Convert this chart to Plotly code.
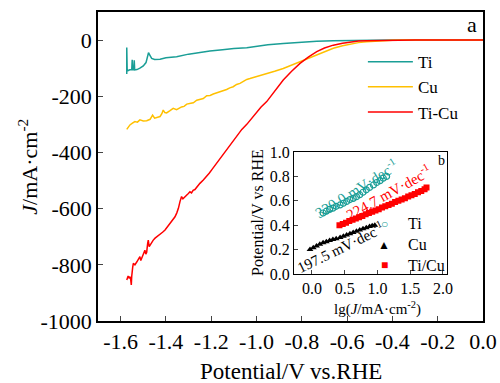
import plotly.graph_objects as go

FONT = "Liberation Serif"
TEAL = "#1a9e96"
YELLOW = "#FFC000"
RED = "#FF0000"

# ---- main panel (a) data ----
ti_x = [-1.573, -1.573, -1.571, -1.560, -1.551, -1.549, -1.547, -1.542, -1.540, -1.538, -1.528, -1.515,
        -1.500, -1.488, -1.480, -1.477, -1.470, -1.463, -1.450, -1.426, -1.400, -1.353, -1.300, -1.279,
        -1.250, -1.206, -1.150, -1.132, -1.100, -1.043, -1.000, -0.950, -0.882, -0.808, -0.734, -0.661,
        -0.587, -0.500, -0.400, -0.300, -0.200, -0.100, 0.0]
ti_y = [-121, -26, -110, -106, -106, -70, -106, -106, -72, -106, -105, -100,
        -92, -80, -60, -45, -55, -65, -69, -68, -63, -59, -50, -47,
        -43, -39, -34, -32, -30, -27, -22, -17, -12, -7, -4, -2,
        -1, 0, 0, 0, 0, 0, 0]

cu_x = [-1.573, -1.566, -1.559, -1.548, -1.537, -1.526, -1.515, -1.500, -1.485, -1.470, -1.462, -1.459,
        -1.450, -1.441, -1.426, -1.418, -1.412, -1.405, -1.397, -1.382, -1.368, -1.353, -1.340, -1.331,
        -1.320, -1.308, -1.290, -1.279, -1.264, -1.250, -1.235, -1.220, -1.205, -1.191, -1.175, -1.161,
        -1.145, -1.132, -1.118, -1.103, -1.088, -1.073, -1.058, -1.043, -1.029, -0.990, -0.955, -0.920,
        -0.882, -0.845, -0.808, -0.770, -0.734, -0.700, -0.661, -0.620, -0.587, -0.550, -0.514, -0.480,
        -0.440, -0.400, -0.337, -0.200, -0.100, 0.0]
cu_y = [-318, -308, -302, -296, -290, -292, -284, -288, -287, -282, -270, -267,
        -278, -276, -272, -262, -249, -258, -259, -251, -243, -248, -242, -238,
        -236, -228, -225, -223, -214, -212, -208, -198, -197, -192, -188, -184,
        -178, -176, -170, -166, -158, -154, -147, -140, -137, -128, -121, -111,
        -101, -89, -77, -65, -53, -41, -29, -20, -14, -9, -6, -4,
        -2, -1, 0, 0, 0, 0]

ticu_x = [-1.573, -1.570, -1.567, -1.563, -1.559, -1.556, -1.553, -1.551, -1.550, -1.547, -1.544, -1.537,
          -1.529, -1.522, -1.515, -1.511, -1.507, -1.500, -1.493, -1.489, -1.485, -1.481, -1.478, -1.474,
          -1.470, -1.463, -1.456, -1.448, -1.440, -1.426, -1.415, -1.404, -1.393, -1.382, -1.371, -1.360,
          -1.352, -1.345, -1.338, -1.331, -1.325, -1.320, -1.310, -1.301, -1.294, -1.287, -1.280, -1.272,
          -1.261, -1.250, -1.235, -1.220, -1.209, -1.198, -1.187, -1.176, -1.165, -1.154, -1.143, -1.132,
          -1.110, -1.088, -1.065, -1.043, -1.029, -1.000, -0.980, -0.955, -0.920, -0.882, -0.845, -0.808,
          -0.770, -0.734, -0.700, -0.661, -0.620, -0.587, -0.550, -0.514, -0.460, -0.400, -0.300, -0.200,
          -0.100, 0.0]
ticu_y = [-854, -845, -840, -848, -842, -850, -872, -840, -819, -810, -795, -800,
          -790, -778, -771, -785, -778, -760, -748, -762, -755, -725, -712, -735,
          -730, -718, -712, -705, -700, -694, -684, -676, -665, -652, -640, -629,
          -615, -599, -575, -557, -565, -560, -553, -546, -540, -544, -535, -532,
          -520, -510, -498, -486, -474, -462, -450, -439, -425, -413, -402, -391,
          -365, -342, -318, -300, -286, -255, -238, -219, -180, -142, -111, -83,
          -60, -41, -28, -18, -11, -6, -3, -2, -1, 0, 0, 0,
          0, 0]

x_ticks = [-1.6, -1.4, -1.2, -1.0, -0.8, -0.6, -0.4, -0.2, 0.0]
x_ticktext = ["-1.6", "-1.4", "-1.2", "-1.0", "-0.8", "-0.6", "-0.4", "-0.2", "0.0"]
y_ticks = [0, -200, -400, -600, -800, -1000]
y_ticktext = ["0", "-200", "-400", "-600", "-800", "-1000"]

# ---- inset (b) data ----
in_ti_x = [0.17, 0.22, 0.27, 0.32, 0.37, 0.43, 0.48, 0.53, 0.58, 0.63, 0.68, 0.73, 0.78, 0.83,
           0.88, 0.94, 0.99, 1.04, 1.09, 1.14]
in_ti_y = [0.50, 0.515, 0.53, 0.54, 0.555, 0.566, 0.58, 0.595, 0.61, 0.62, 0.634, 0.65, 0.67, 0.69,
           0.71, 0.73, 0.75, 0.765, 0.785, 0.80]
in_cu_x = [-0.03, 0.02, 0.07, 0.12, 0.17, 0.22, 0.27, 0.32, 0.37, 0.43, 0.48, 0.53, 0.58, 0.63,
           0.68, 0.73, 0.78, 0.83, 0.88, 0.92, 0.96]
in_cu_y = [0.20, 0.215, 0.23, 0.245, 0.257, 0.265, 0.275, 0.283, 0.29, 0.30, 0.31, 0.32, 0.33, 0.34,
           0.35, 0.36, 0.37, 0.38, 0.39, 0.395, 0.40]
in_ticu_x = [0.42, 0.47, 0.52, 0.57, 0.62, 0.67, 0.72, 0.77, 0.82, 0.87, 0.92, 0.97, 1.02, 1.07,
             1.12, 1.17, 1.22, 1.27, 1.32, 1.37, 1.42, 1.47, 1.52, 1.57, 1.62, 1.67, 1.72, 1.75]
in_ticu_y = [0.40, 0.41, 0.42, 0.435, 0.445, 0.455, 0.465, 0.475, 0.49, 0.50, 0.51, 0.52, 0.53, 0.545,
             0.555, 0.565, 0.575, 0.59, 0.60, 0.61, 0.62, 0.635, 0.645, 0.655, 0.67, 0.68, 0.695, 0.71]
in_x_ticks = [0.0, 0.5, 1.0, 1.5, 2.0]
in_x_ticktext = ["0.0", "0.5", "1.0", "1.5", "2.0"]
in_y_ticks = [0.0, 0.2, 0.4, 0.6, 0.8, 1.0]
in_y_ticktext = ["0.0", "0.2", "0.4", "0.6", "0.8", "1.0"]
in_legend_names = ["Ti", "Cu", "Ti/Cu"]
in_legend_glyphs = ["○", "▲", "■"]
in_legend_colors = [TEAL, "black", RED]

fig = go.Figure()
fig.add_trace(go.Scatter(x=ti_x, y=ti_y, mode="lines", name="Ti", line=dict(color=TEAL, width=1.5)))
fig.add_trace(go.Scatter(x=cu_x, y=cu_y, mode="lines", name="Cu", line=dict(color=YELLOW, width=1.5)))
fig.add_trace(go.Scatter(x=ticu_x, y=ticu_y, mode="lines", name="Ti-Cu", line=dict(color=RED, width=1.5)))

fig.add_trace(go.Scatter(x=in_ti_x, y=in_ti_y, mode="markers", name="Ti", xaxis="x2", yaxis="y2",
                         showlegend=False,
                         marker=dict(symbol="circle-open", size=6, color=TEAL, line=dict(width=1.2))))
fig.add_trace(go.Scatter(x=in_cu_x, y=in_cu_y, mode="markers", name="Cu", xaxis="x2", yaxis="y2",
                         showlegend=False,
                         marker=dict(symbol="triangle-up", size=6, color="black")))
fig.add_trace(go.Scatter(x=in_ticu_x, y=in_ticu_y, mode="markers", name="Ti/Cu", xaxis="x2", yaxis="y2",
                         showlegend=False,
                         marker=dict(symbol="square", size=6, color=RED)))

fig.update_layout(
    width=500, height=383,
    margin=dict(l=98, r=17, t=12, b=62),
    paper_bgcolor="white", plot_bgcolor="white",
    font=dict(family=FONT, color="black"),
    xaxis=dict(showline=True, linecolor="black", mirror=True, linewidth=1.5, ticks="inside",
               automargin=False, tickvals=x_ticks, ticktext=x_ticktext,
               tickfont=dict(family=FONT, size=22), range=[-1.7, 0.0]),
    yaxis=dict(showline=True, linecolor="black", mirror=True, linewidth=1.5, ticks="inside",
               automargin=False, tickvals=y_ticks, ticktext=y_ticktext,
               tickfont=dict(family=FONT, size=22), range=[-1000, 100]),
    xaxis2=dict(domain=[0.509, 0.906], anchor="y2", range=[-0.275, 2.06],
                showline=True, linecolor="black", mirror=True, linewidth=1, ticks="inside", ticklen=4,
                automargin=False, tickvals=in_x_ticks, ticktext=in_x_ticktext,
                tickfont=dict(family=FONT, size=16)),
    yaxis2=dict(domain=[0.152, 0.547], anchor="x2", range=[0, 1.0],
                showline=True, linecolor="black", mirror=True, linewidth=1, ticks="inside", ticklen=4,
                automargin=False, tickvals=in_y_ticks, ticktext=in_y_ticktext,
                tickfont=dict(family=FONT, size=16)),
    legend=dict(x=0.688, y=0.896, xanchor="left", yanchor="top", bgcolor="rgba(0,0,0,0)",
                font=dict(family=FONT, size=17), tracegroupgap=0, itemwidth=45),
    showlegend=True,
)

annots = [
    dict(text="Potential/V vs.RHE", x=0.5, y=-0.165, size=23, color="black", angle=0, xa="center"),
    dict(text="<i>J</i>/mA·cm<sup>-2</sup>", x=-0.184, y=0.5, size=22, color="black", angle=-90, xa="center"),
    dict(text="lg(<i>J</i>/mA·cm<sup>-2</sup>)", x=0.727, y=0.042, size=15, color="black", angle=0, xa="center"),
    dict(text="Potential/V vs RHE", x=0.416, y=0.35, size=16, color="black", angle=-90, xa="center"),
    dict(text="a", x=0.971, y=0.958, size=22, color="black", angle=0, xa="center"),
    dict(text="b", x=0.893, y=0.521, size=14, color="black", angle=0, xa="center"),
    dict(text="320.0 mV·dec<sup>-1</sup>", x=0.672, y=0.429, size=15, color=TEAL, angle=-32, xa="center"),
    dict(text="224.7 mV·dec<sup>-1</sup>", x=0.754, y=0.418, size=15, color=RED, angle=-29, xa="center"),
    dict(text="197.5 mV·dec<sup>-1</sup>", x=0.629, y=0.240, size=15, color="black", angle=-26, xa="center"),
]
leg_y = [0.314, 0.246, 0.181]
for name, glyph, col, yy in zip(in_legend_names, in_legend_glyphs, in_legend_colors, leg_y):
    annots.append(dict(text=glyph, x=0.743, y=yy, size=12, color=col, angle=0, xa="center"))
    annots.append(dict(text=name, x=0.80, y=yy, size=16, color="black", angle=0, xa="left"))

for a in annots:
    fig.add_annotation(xref="paper", yref="paper", showarrow=False, xanchor=a["xa"], yanchor="middle",
                       x=a["x"], y=a["y"], text=a["text"], textangle=a["angle"],
                       font=dict(family=FONT, size=a["size"], color=a["color"]))

fig.write_html("out.html", config={"displayModeBar": False},
               post_script="document.body.style.margin='0';")
